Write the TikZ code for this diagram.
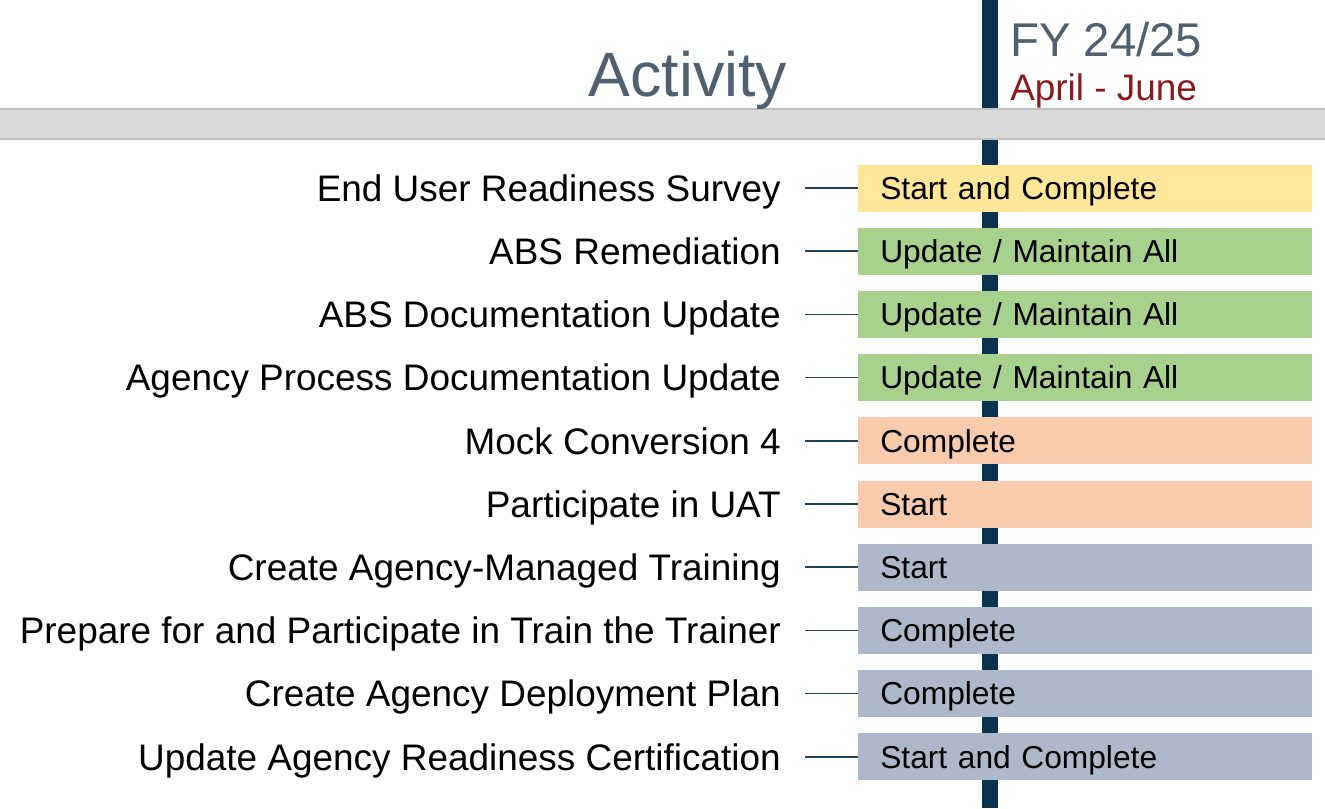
\documentclass[tikz,border=0pt]{standalone}
\usepackage{fontspec}
\setmainfont{Liberation Sans}
\usetikzlibrary{positioning}
\definecolor{axisnavy}{HTML}{0B3350}
\definecolor{headgrey}{HTML}{4F6070}
\definecolor{termred}{HTML}{8B1A1F}
\definecolor{bandfill}{HTML}{D9D9D9}
\definecolor{bandline}{HTML}{BFBFBF}
\definecolor{linkcol}{HTML}{1F4257}
\definecolor{yellowbar}{HTML}{FFE699}
\definecolor{greenbar}{HTML}{A9D18E}
\definecolor{peachbar}{HTML}{F8CBAD}
\definecolor{slatebar}{HTML}{ADB9CA}
\tikzset{basic text/.style={inner sep=0pt,text depth=0pt}}
\tikzset{activity/.style={basic text,
                          anchor=east,
                          font=\fontsize{27.7}{32}\selectfont,
                          text height=19.8pt}}
\tikzset{statusbar/.style={basic text,
                           anchor=west,
                           align=left,
                           inner xsep=16.5pt,
                           text width=307.5pt,
                           minimum height=35.25pt,
                           font=\fontsize{23.8}{28}\selectfont,
                           text height=17pt}}
\tikzset{link/.style={draw,
                      color=linkcol,
                      line width=1.1pt}}
\newcommand{\UPDALL}{Update / Maintain All}
\newcommand{\STARTDONE}{Start and Complete}

\begin{document}
\begin{tikzpicture}
      [
      x=0.75pt,y=-0.75pt,
      ]
      \useasboundingbox (0,0) rectangle (1325,808);

      % time axis
      \coordinate (axtop) at (990,0);
      \coordinate (axbot) at (990,808);
      \draw [color=axisnavy,line width=12pt] (axtop) -- (axbot);

      % header
      \path [fill=bandfill,draw=bandline,line width=1.1pt] (-2,109) rectangle (1327,139);
      \node [basic text,anchor=base,color=headgrey,font=\fontsize{47}{52}\selectfont]
      (title) at (688,96) {Activity};
      \node [basic text,anchor=base west,color=headgrey,font=\fontsize{35.5}{40}\selectfont]
      (fy) at (1010,56) {FY 24/25};
      \node [basic text,anchor=base west,color=termred,font=\fontsize{27.7}{32}\selectfont]
      (term) at (1010,100) {April - June};

      % rows
      \foreach \i/\l/\s/\c [evaluate=\i as \y using 188+(\i-1)*63.2] in
      {
      1/End User Readiness Survey/\STARTDONE/yellowbar,
      2/ABS Remediation/\UPDALL/greenbar,
      3/ABS Documentation Update/\UPDALL/greenbar,
      4/Agency Process Documentation Update/\UPDALL/greenbar,
      5/Mock Conversion 4/Complete/peachbar,
      6/Participate in UAT/Start/peachbar,
      7/Create Agency-Managed Training/Start/slatebar,
      8/Prepare for and Participate in Train the Trainer/Complete/slatebar,
      9/Create Agency Deployment Plan/Complete/slatebar,
      10/Update Agency Readiness Certification/\STARTDONE/slatebar}
      {
      \node [activity] (L\i) at (781,\y) {\l};
      \node [statusbar,fill=\c] (B\i) at (858,\y) {\s};
      \path [link] ([xshift=18pt]L\i.east) -- (B\i.west);
      }

    \end{tikzpicture}
\end{document}
